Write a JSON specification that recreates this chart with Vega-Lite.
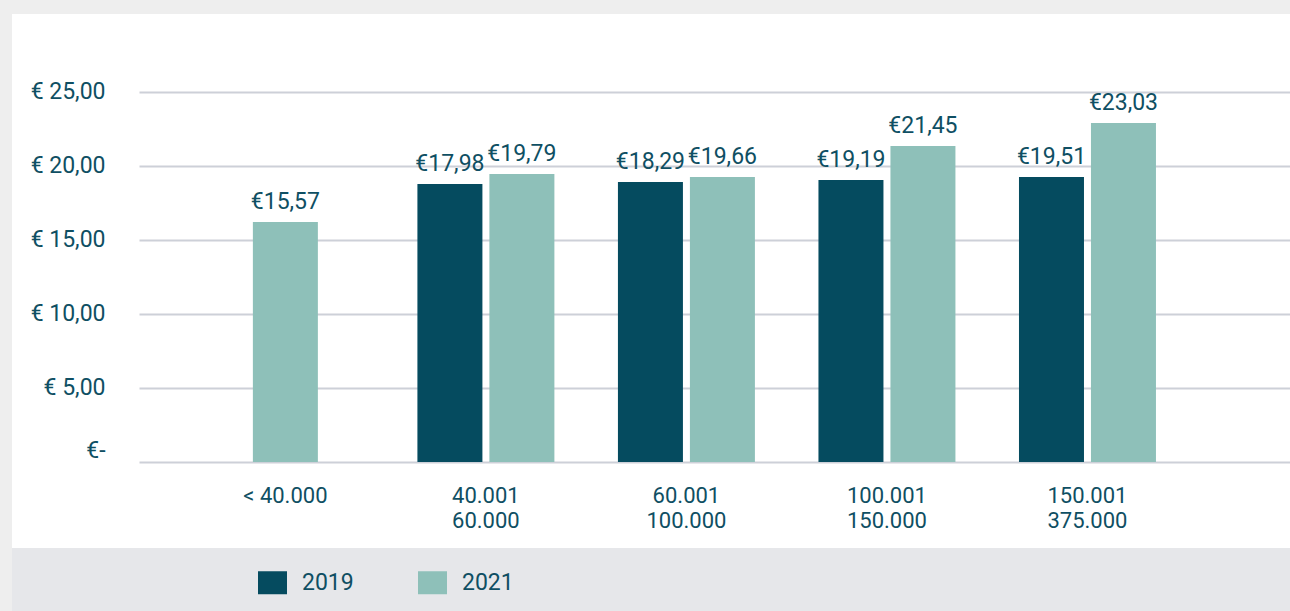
{
  "$schema": "https://vega.github.io/schema/vega-lite/v6.json",
  "autosize": {"type": "none"},
  "padding": {"left": 12, "top": 14, "right": 0, "bottom": 0},
  "width": 1278,
  "height": 597,
  "background": "#eeeeee",
  "view": {"fill": "#ffffff", "stroke": null},
  "config": {
    "font": "Roboto",
    "axis": {"labelFont": "Roboto", "labelColor": "#0f4f63"},
    "legend": {"labelFont": "Roboto", "labelColor": "#0f4f63"}
  },
  "data": {
    "values": [
      {"cat": "< 40.000", "year": "2021", "value": 16.23, "label": "€15,57"},
      {"cat": "40.001-60.000", "year": "2019", "value": 18.80, "label": "€17,98"},
      {"cat": "40.001-60.000", "year": "2021", "value": 19.47, "label": "€19,79"},
      {"cat": "60.001-100.000", "year": "2019", "value": 18.93, "label": "€18,29"},
      {"cat": "60.001-100.000", "year": "2021", "value": 19.27, "label": "€19,66"},
      {"cat": "100.001-150.000", "year": "2019", "value": 19.07, "label": "€19,19"},
      {"cat": "100.001-150.000", "year": "2021", "value": 21.37, "label": "€21,45"},
      {"cat": "150.001-375.000", "year": "2019", "value": 19.27, "label": "€19,51"},
      {"cat": "150.001-375.000", "year": "2021", "value": 22.92, "label": "€23,03"}
    ]
  },
  "layer": [
    {
      "transform": [{"filter": "datum.cat == '< 40.000'"}],
      "mark": {"type": "rect", "fill": "#e6e7ea", "clip": false},
      "encoding": {
        "x": {"value": 0},
        "x2": {"value": "width"},
        "y": {"datum": -5.81, "type": "quantitative", "scale": {"domain": [-10.07, 30.29], "nice": false, "zero": false}},
        "y2": {"datum": -10.07}
      }
    },
    {
      "transform": [{"filter": "datum.cat != '< 40.000'"}],
      "mark": {"type": "bar"},
      "encoding": {
        "x": {"field": "cat", "type": "nominal", "sort": null, "title": null,
          "scale": {"domain": ["< 40.000", "40.001-60.000", "60.001-100.000", "100.001-150.000", "150.001-375.000"], "range": [127, 1278], "paddingInner": 0.282, "paddingOuter": 0.511, "align": 0.363, "round": false},
          "axis": {
            "orient": "bottom", "offset": -149, "domain": false, "ticks": false, "tickSize": 0,
            "labelAngle": 0, "labelFontSize": 22, "labelPadding": 23, "labelBaseline": "top",
            "labelLineHeight": 25, "labelExpr": "split(datum.label, '-')", "grid": false
          }
        },
        "y": {"field": "value", "type": "quantitative", "title": null,
          "axis": {
            "orient": "left", "offset": -127, "values": [0, 5, 10, 15, 20, 25],
            "domain": false, "ticks": false, "tickSize": 0, "grid": true,
            "gridColor": "#cdd0d8", "gridWidth": 2, "labelFontSize": 23, "labelPadding": 34,
            "labelBaseline": "middle",
            "labelOffset": {"condition": {"test": "datum.value == 0", "value": -12}, "value": -1},
            "labelExpr": "datum.value == 0 ? '€-' : '€ ' + replace(format(datum.value, '.2f'), '.', ',')"
          }
        },
        "xOffset": {"field": "year", "type": "nominal", "scale": {"paddingInner": 0.097, "paddingOuter": 0.0486}},
        "color": {
          "field": "year", "type": "nominal",
          "scale": {"domain": ["2019", "2021"], "range": ["#054b5f", "#8ec0b9"]},
          "legend": {
            "orient": "none", "legendX": 246, "legendY": 554, "direction": "horizontal",
            "title": null, "padding": 0, "symbolType": "M-1,-0.793H1V0.793H-1Z",
            "symbolSize": 841, "symbolStrokeWidth": 0, "symbolOpacity": 1,
            "labelFontSize": 23, "labelOffset": 15, "columnPadding": 64
          }
        }
      }
    },
    {
      "transform": [{"filter": "datum.cat != '< 40.000'"}],
      "mark": {"type": "text", "baseline": "alphabetic", "dy": -13, "fontSize": 23, "color": "#0f4f63", "font": "Roboto"},
      "encoding": {
        "x": {"field": "cat", "type": "nominal", "sort": null},
        "y": {"field": "value", "type": "quantitative"},
        "xOffset": {"field": "year", "type": "nominal", "scale": {"paddingInner": 0.097, "paddingOuter": 0.0486}},
        "text": {"field": "label"}
      }
    },
    {
      "transform": [{"filter": "datum.cat == '< 40.000'"}],
      "mark": {"type": "bar", "width": 65},
      "encoding": {
        "x": {"field": "cat", "type": "nominal", "sort": null},
        "y": {"field": "value", "type": "quantitative"},
        "color": {"field": "year", "type": "nominal"}
      }
    },
    {
      "transform": [{"filter": "datum.cat == '< 40.000'"}],
      "mark": {"type": "text", "baseline": "alphabetic", "dy": -13, "fontSize": 23, "color": "#0f4f63", "font": "Roboto"},
      "encoding": {
        "x": {"field": "cat", "type": "nominal", "sort": null},
        "y": {"field": "value", "type": "quantitative"},
        "text": {"field": "label"}
      }
    }
  ]
}
